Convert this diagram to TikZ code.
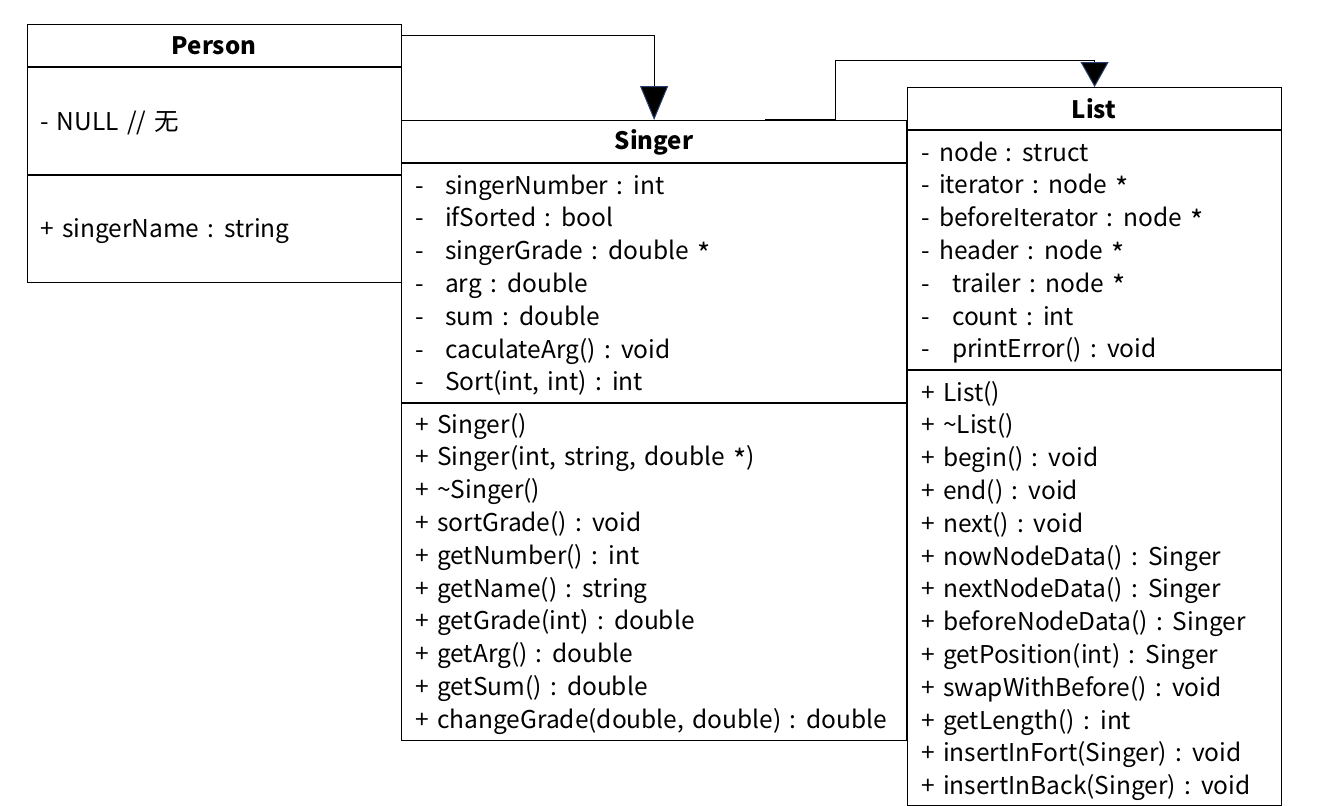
\documentclass[tikz,border=0pt]{standalone}
\usepackage{fontspec}
\usepackage{graphicx}
\setmainfont[WordSpace=1.5]{Noto Sans CJK SC}
\usetikzlibrary{arrows.meta}
\definecolor{tipblue}{RGB}{38,62,110}
\newcommand{\ptr}{\raisebox{-0.35ex}{\scalebox{1.15}{*}}}
\tikzset{
  box/.style={draw, line width=1.2pt, anchor=north west, inner sep=0pt},
  row/.style={anchor=west, inner sep=0pt, text height=21pt, text depth=5pt,
    font=\fontsize{24.5}{30}\selectfont},
  ttl/.style={inner sep=0pt, font=\fontsize{24}{30}\selectfont\bfseries},
  gen/.style={line width=1pt, -{Triangle[length=#1, width=28pt, color=tipblue, fill=black]}}
}

\begin{document}
\begin{tikzpicture}[x=1pt, y=-1pt]
  \useasboundingbox (0,0) rectangle (1339,806);
  % Person
  \node[box, minimum width=374pt, minimum height=258pt] (person) at (27,24) {};
  \draw[line width=1.2pt] (27,67) -- (401,67);
  \draw[line width=1.2pt] (27,175) -- (401,175);
  \node[ttl] (nperson) at (214,46) {Person};
  \node[row] (pattr) at (40,122) {- NULL // 无};
  \node[row] (pmeth) at (40,229) {+ singerName : string};
  % Singer
  \node[box, minimum width=505pt, minimum height=620pt] (singer) at (401,120) {};
  \draw[line width=1.2pt] (401,163) -- (906,163);
  \draw[line width=1.2pt] (401,403) -- (906,403);
  \node[ttl] (nsinger) at (654,142) {Singer};
  \foreach \txt [count=\i] in {singerNumber : int, ifSorted : bool,
      singerGrade : double \ptr, arg : double, sum : double,
      caculateArg() : void, {Sort(int, int) : int}}{
    \node[row] (sd\i) at (415,186+32.8*\i-32.8) {-};
    \node[row] (sa\i) at (445,186+32.8*\i-32.8) {\txt};
  }
  \foreach \txt [count=\i] in {Singer(), {Singer(int, string, double \ptr)},
      \textasciitilde Singer(), sortGrade() : void, getNumber() : int,
      getName() : string, getGrade(int) : double, getArg() : double,
      getSum() : double, {changeGrade(double, double) : double}}{
    \node[row] (sp\i) at (415,425+32.8*\i-32.8) {+};
    \node[row] (sm\i) at (437,425+32.8*\i-32.8) {\txt};
  }
  % List
  \node[box, minimum width=374pt, minimum height=718pt] (list) at (907,87) {};
  \draw[line width=1.2pt] (907,130) -- (1281,130);
  \draw[line width=1.2pt] (907,370) -- (1281,370);
  \node[ttl] (nlist) at (1094,109) {List};
  \foreach \txt/\xx [count=\i] in {node : struct/939, iterator : node \ptr/939,
      beforeIterator : node \ptr/939, header : node \ptr/939,
      trailer : node \ptr/952, count : int/952, printError() : void/952}{
    \node[row] (ld\i) at (921,153+32.8*\i-32.8) {-};
    \node[row] (la\i) at (\xx,153+32.8*\i-32.8) {\txt};
  }
  \foreach \txt [count=\i] in {List(), \textasciitilde List(), begin() : void,
      end() : void, next() : void, nowNodeData() : Singer,
      nextNodeData() : Singer, beforeNodeData() : Singer,
      getPosition(int) : Singer, swapWithBefore() : void, getLength() : int,
      insertInFort(Singer) : void, insertInBack(Singer) : void}{
    \node[row] (lp\i) at (921,393+32.8*\i-32.8) {+};
    \node[row] (lm\i) at (943,393+32.8*\i-32.8) {\txt};
  }
  % generalisation links
  \coordinate (pfrom) at (401,35);
  \draw[gen=34pt] (pfrom) -| (singer.north);
  \coordinate (sfrom) at (765,119);
  \coordinate (bend) at (835,60);
  \draw[gen=25pt] (sfrom) -| (bend) -| (list.north);
\end{tikzpicture}
\end{document}
